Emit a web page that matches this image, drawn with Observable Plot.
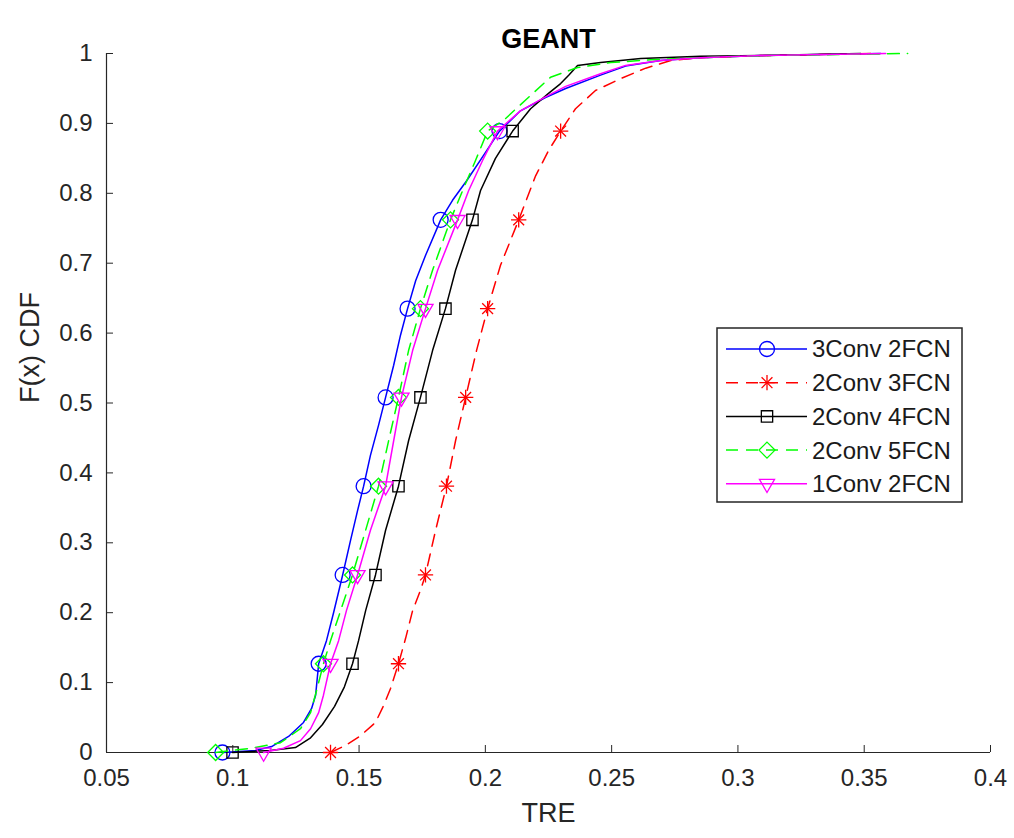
<!DOCTYPE html>
<html><head><meta charset="utf-8">
<script src="https://cdn.jsdelivr.net/npm/d3@7"></script>
<script src="https://cdn.jsdelivr.net/npm/@observablehq/plot@0.6"></script>
<style>
body{margin:0;background:#fff}
#wrap{position:relative;width:1014px;height:838px}
#wrap svg.overlay{position:absolute;left:0;top:0}
</style>
</head><body><div id="wrap"></div>
<script>
// ---------------- data ----------------
const titleText = "GEANT";
const xLabel = "TRE";
const yLabel = "F(x) CDF";
const seriesNames = ["3Conv 2FCN", "2Conv 3FCN", "2Conv 4FCN", "2Conv 5FCN", "1Conv 2FCN"];
const xTicks = [0.05, 0.1, 0.15, 0.2, 0.25, 0.3, 0.35, 0.4];
const xTickLabels = ["0.05", "0.1", "0.15", "0.2", "0.25", "0.3", "0.35", "0.4"];
const yTicks = [0, 0.1, 0.2, 0.3, 0.4, 0.5, 0.6, 0.7, 0.8, 0.9, 1];
const yTickLabels = ["0", "0.1", "0.2", "0.3", "0.4", "0.5", "0.6", "0.7", "0.8", "0.9", "1"];
const markerLevels = [0, 0.127, 0.254, 0.381, 0.508, 0.635, 0.762, 0.889];

// 3Conv 2FCN
const conv3fcn2X = [0.0959,0.1090,0.1157,0.1221,0.1280,0.1312,0.1328,0.1340,0.1371,0.1399,0.1435,0.1466,0.1494,0.1518,0.1545,0.1577,0.1605,0.1637,0.1664,0.1692,0.1724,0.1763,0.1823,0.1870,0.1926,0.1985,0.2056,0.2139,0.2238,0.2318,0.2456,0.2555,0.2694,0.2852,0.3090,0.3565];
const conv3fcn2Y = [0,0.003,0.009,0.023,0.043,0.063,0.082,0.127,0.160,0.200,0.254,0.303,0.346,0.381,0.425,0.468,0.508,0.554,0.597,0.635,0.675,0.711,0.762,0.790,0.818,0.850,0.889,0.918,0.937,0.950,0.969,0.982,0.990,0.994,0.997,1];
const conv3fcn2M = [0.0959,0.1340,0.1435,0.1518,0.1605,0.1692,0.1823,0.2056];

// 2Conv 3FCN
const conv2fcn3X = [0.1387,0.1446,0.1506,0.1565,0.1597,0.1625,0.1656,0.1684,0.1712,0.1743,0.1763,0.1803,0.1846,0.1882,0.1922,0.1965,0.2009,0.2060,0.2132,0.2199,0.2250,0.2298,0.2357,0.2436,0.2535,0.2635,0.2734,0.2852,0.3090,0.3549];
const conv2fcn3Y = [0,0.010,0.024,0.043,0.067,0.092,0.127,0.163,0.203,0.232,0.254,0.318,0.381,0.446,0.508,0.575,0.635,0.697,0.762,0.825,0.861,0.889,0.921,0.947,0.964,0.979,0.990,0.994,0.997,1];
const conv2fcn3M = [0.1387,0.1656,0.1763,0.1846,0.1922,0.2009,0.2132,0.2298];

// 2Conv 4FCN
const conv2fcn4X = [0.0999,0.1149,0.1248,0.1308,0.1355,0.1403,0.1442,0.1474,0.1498,0.1526,0.1565,0.1605,0.1656,0.1696,0.1743,0.1791,0.1842,0.1882,0.1949,0.1981,0.2040,0.2108,0.2179,0.2250,0.2298,0.2330,0.2365,0.2456,0.2615,0.2852,0.3090,0.3486];
const conv2fcn4Y = [0,0.003,0.007,0.021,0.040,0.066,0.094,0.127,0.160,0.203,0.254,0.318,0.381,0.446,0.508,0.575,0.635,0.690,0.762,0.804,0.850,0.889,0.921,0.943,0.957,0.969,0.983,0.987,0.993,0.996,0.997,1];
const conv2fcn4M = [0.0999,0.1474,0.1565,0.1656,0.1743,0.1842,0.1949,0.2108];

// 2Conv 5FCN
const conv2fcn5X = [0.0932,0.1070,0.1189,0.1268,0.1308,0.1332,0.1359,0.1387,0.1427,0.1474,0.1526,0.1577,0.1617,0.1656,0.1696,0.1743,0.1791,0.1862,0.1910,0.1961,0.2009,0.2080,0.2167,0.2258,0.2365,0.2496,0.2654,0.2852,0.3090,0.3672];
const conv2fcn5Y = [0,0.006,0.014,0.034,0.057,0.089,0.127,0.160,0.203,0.254,0.318,0.381,0.446,0.508,0.575,0.635,0.690,0.762,0.804,0.847,0.889,0.907,0.936,0.966,0.980,0.987,0.991,0.994,0.997,1];
const conv2fcn5M = [0.0932,0.1359,0.1474,0.1577,0.1656,0.1743,0.1862,0.2009];

// 1Conv 2FCN
const conv1fcn2X = [0.1122,0.1201,0.1268,0.1308,0.1340,0.1359,0.1387,0.1419,0.1450,0.1494,0.1545,0.1605,0.1637,0.1668,0.1712,0.1763,0.1811,0.1890,0.1934,0.1989,0.2048,0.2139,0.2238,0.2318,0.2456,0.2555,0.2694,0.2852,0.3090,0.3585];
const conv1fcn2Y = [0,0.006,0.017,0.034,0.057,0.082,0.127,0.160,0.203,0.254,0.318,0.381,0.446,0.508,0.575,0.635,0.690,0.762,0.804,0.847,0.889,0.918,0.938,0.953,0.971,0.983,0.990,0.994,0.997,1];
const conv1fcn2M = [0.1122,0.1387,0.1494,0.1605,0.1668,0.1763,0.1890,0.2048];

// ---------------- styling ----------------
const series = [
  {name: seriesNames[0], xs: conv3fcn2X, ys: conv3fcn2Y, mx: conv3fcn2M, color: "#0000ff", dash: null, symbol: "circle", r: 7.5, rotate: 0},
  {name: seriesNames[1], xs: conv2fcn3X, ys: conv2fcn3Y, mx: conv2fcn3M, color: "#ff0000", dash: "12,8", symbol: "asterisk", r: 5, rotate: 0},
  {name: seriesNames[2], xs: conv2fcn4X, ys: conv2fcn4Y, mx: conv2fcn4M, color: "#000000", dash: null, symbol: "square2", r: 7.2, rotate: 0},
  {name: seriesNames[3], xs: conv2fcn5X, ys: conv2fcn5Y, mx: conv2fcn5M, color: "#00ff00", dash: "12,8", symbol: "diamond2", r: 7.2, rotate: 0},
  {name: seriesNames[4], xs: conv1fcn2X, ys: conv1fcn2Y, mx: conv1fcn2M, color: "#ff00ff", dash: null, symbol: "triangle2", r: 7.2, rotate: 180}
];
const axisColor = "#262626";
const font = "'Liberation Sans', Arial, Helvetica, sans-serif";

const marks = [];
marks.push(Plot.ruleX([0.05], {stroke: axisColor, strokeWidth: 1.2}));
marks.push(Plot.ruleY([0], {stroke: axisColor, strokeWidth: 1.2}));

function pushMarkers(pts, s) {
  if (s.symbol === "asterisk") {
    marks.push(Plot.dot(pts, {x: "x", y: "y", symbol: "plus", r: s.r, stroke: s.color, fill: "none", strokeWidth: 1.3}));
    marks.push(Plot.dot(pts, {x: "x", y: "y", symbol: "times", r: s.r, stroke: s.color, fill: "none", strokeWidth: 1.3}));
  } else {
    marks.push(Plot.dot(pts, {x: "x", y: "y", symbol: s.symbol, r: s.r, rotate: s.rotate, stroke: s.color, fill: "none", strokeWidth: 1.3}));
  }
}

series.forEach(s => {
  const line = s.xs.map((x, i) => ({x, y: s.ys[i]}));
  marks.push(Plot.line(line, {x: "x", y: "y", stroke: s.color, strokeWidth: 1.5, strokeDasharray: s.dash}));
  const pts = s.mx.map((x, i) => ({x, y: markerLevels[i]}));
  pushMarkers(pts, s);
});

marks.push(Plot.axisX({ticks: xTicks, tickSize: -7, tickPadding: 23, tickFormat: d => xTickLabels[xTicks.indexOf(d)], fontSize: 24, color: axisColor, label: null}));
marks.push(Plot.axisY({ticks: yTicks, tickSize: -7, tickPadding: 21, tickFormat: d => yTickLabels[yTicks.indexOf(d)], fontSize: 24, color: axisColor, label: null}));

marks.push(Plot.text([xLabel], {text: d => d, frameAnchor: "bottom", dy: 69, fontSize: 27, fill: axisColor}));
marks.push(Plot.text([yLabel], {text: d => d, frameAnchor: "left", dx: -76, rotate: -90, fontSize: 27, fill: axisColor}));
marks.push(Plot.text([titleText], {text: d => d, frameAnchor: "top", dy: -25, fontSize: 27, fontWeight: "bold", fill: "#000"}));

const chart = Plot.plot({
  width: 1014,
  height: 838,
  marginLeft: 106,
  marginRight: 24,
  marginTop: 53,
  marginBottom: 86,
  x: {domain: [0.05, 0.4]},
  y: {domain: [0, 1]},
  style: {fontFamily: font, fontSize: "24px", background: "#fff", overflow: "visible"},
  marks
});
document.getElementById("wrap").appendChild(chart);

// ---------------- legend (overlay) ----------------
const lg = d3.select("#wrap").append("svg").attr("class", "overlay").attr("width", 1014).attr("height", 838);
lg.append("rect").attr("x", 717).attr("y", 328).attr("width", 245).attr("height", 174)
  .attr("fill", "#fff").attr("stroke", axisColor).attr("stroke-width", 1.5);
const symMap = {circle: d3.symbolCircle, square2: d3.symbolSquare2, diamond2: d3.symbolDiamond2, triangle2: d3.symbolTriangle2, plus: d3.symbolPlus, times: d3.symbolTimes};
series.forEach((s, i) => {
  const cy = 349 + i * 33.7;
  const g = lg.append("g");
  g.append("line").attr("x1", 726).attr("x2", 807).attr("y1", cy).attr("y2", cy)
    .attr("stroke", s.color).attr("stroke-width", 1.5).attr("stroke-dasharray", s.dash);
  const size = Math.PI * s.r * s.r;
  const syms = s.symbol === "asterisk" ? ["plus", "times"] : [s.symbol];
  syms.forEach(sym => {
    g.append("path").attr("d", d3.symbol(symMap[sym], size)())
      .attr("transform", `translate(767,${cy}) rotate(${s.rotate})`)
      .attr("fill", "none").attr("stroke", s.color).attr("stroke-width", 1.3);
  });
  g.append("text").attr("x", 812).attr("y", cy).attr("dy", "0.35em")
    .attr("font-family", font).attr("font-size", 24).attr("fill", "#1a1a1a").text(s.name);
});
</script>
</body></html>
